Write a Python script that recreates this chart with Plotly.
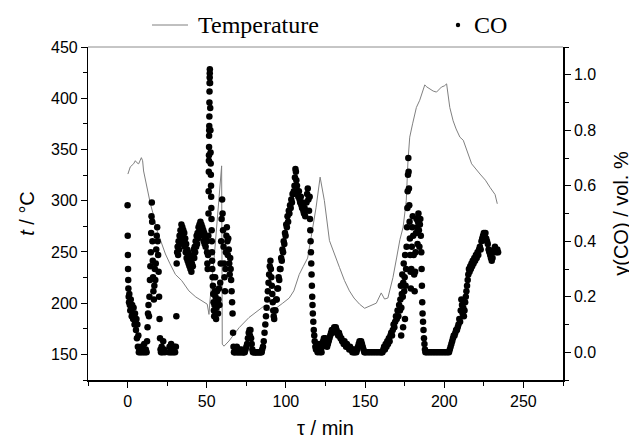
import plotly.graph_objects as go

# Temperature trace (tau in min, t in degC)
temp_tau = [0.2, 1.7, 3.8, 4.9, 5.9, 7.0, 8.7, 9.5, 10.1, 12.9, 14.4, 16.5, 18.6, 20.9, 23.9,
            26.6, 30.2, 34.2, 38.7, 43.1, 47.1, 50.3, 51.4, 52.0, 54.5, 57.1, 59.4, 59.8, 60.9,
            64.0, 70.4, 76.7, 83.1, 86.0, 89.4, 93.7, 98.0, 102.1, 105.0, 108.4, 111.0, 113.7,
            116.0, 119.0, 121.6, 124.3, 127.5, 130.0, 133.8, 137.0, 140.1, 143.0, 146.5, 149.7,
            153.0, 157.1, 160.2, 162.3, 164.4, 167.6, 170.0, 172.0, 174.0, 176.0, 177.1, 178.2,
            180.0, 182.4, 184.5, 186.0, 187.7, 189.0, 190.9, 193.0, 195.1, 196.5, 198.3, 200.0,
            201.5, 203.5, 205.6, 207.5, 209.9, 212.0, 214.0, 217.3, 222.6, 226.0, 228.9, 232.1, 233.5]
temp_c = [326, 333, 336, 339, 337, 336, 342, 339, 329, 306, 297, 285, 271, 261, 248,
          239, 228, 222, 212, 206, 202, 199, 189, 202, 241, 290, 334, 160, 158,
          163, 176, 186, 194, 197, 193, 195, 200, 205, 212, 228, 236, 244,
          265, 293, 323, 300, 261, 250, 235, 222, 212, 205, 199, 195,
          197, 200, 210, 204, 205, 225, 245, 262, 274, 300, 339, 362,
          375, 391, 398, 405, 413, 411, 409, 407, 406, 408, 411, 412,
          414, 391, 378, 370, 362, 359, 350, 336, 326, 320, 313, 306, 297]

# CO trace (tau in min, y(CO) in vol. %)
co_tau = [
    0.0, 0.1, 0.2, 0.3, 0.4, 0.5, 0.7, 0.9, 1.1, 1.4,
    1.7, 2.0, 2.3, 2.6, 2.9, 3.2, 3.5, 3.8, 4.1, 4.4,
    4.7, 5.0, 5.3, 5.6, 5.9, 6.2, 6.5, 6.8, 7.1, 7.5,
    8.0, 8.5, 9.0, 9.5, 10.0, 10.5, 11.0, 11.5,
    12.0, 12.3, 12.6, 12.9, 13.2, 13.5, 13.8, 14.1, 14.4, 14.7,
    14.9, 15.1, 15.3, 15.5, 15.7, 15.9, 16.1, 16.3, 16.6, 16.9,
    17.2, 17.5, 17.8, 18.1, 18.4, 18.7, 19.0, 19.3, 19.6, 19.9,
    20.2, 20.5, 20.8, 21.1, 21.5, 22.0, 22.5, 23.0, 23.5,
    26.0, 26.5, 27.0, 27.5, 28.0, 28.5, 29.0, 29.5, 30.0, 30.5,
    30.8, 31.0, 31.3, 31.6, 31.9, 32.2, 32.5, 32.8, 33.1, 33.4,
    33.7, 34.0, 34.3, 34.6, 34.9, 35.2, 35.5, 35.8, 36.1, 36.4,
    36.7, 37.0, 37.3, 37.6, 37.9, 38.2, 38.5, 38.8, 39.1, 39.4,
    39.7, 40.0, 40.3, 40.6, 40.9, 41.2, 41.5, 41.8, 42.1, 42.4,
    42.7, 43.0, 43.3, 43.6, 43.9, 44.2, 44.5, 44.8, 45.1, 45.4,
    45.7, 46.0, 46.3, 46.6, 46.9, 47.2, 47.5, 47.8, 48.1, 48.4,
    48.7, 49.0, 49.3, 49.6, 50.0, 50.2, 50.4, 50.6, 50.8, 51.0,
    51.1, 51.2, 51.3, 51.35, 51.4, 51.45, 51.5, 51.55, 51.6, 51.65,
    51.7, 51.75, 51.8, 51.85, 51.9, 51.95, 52.1, 52.2, 52.3, 52.4,
    52.5, 52.6, 52.7, 52.8, 52.9, 53.0, 53.1, 53.2, 53.3, 53.4,
    53.5, 53.7, 53.9, 54.1, 54.3, 54.5, 54.7, 54.9, 55.1, 55.3,
    55.5, 55.7, 55.9, 56.2, 56.5, 56.8, 57.1, 57.4, 57.7, 58.0,
    58.5, 58.8, 59.1, 59.4, 59.7, 60.0, 60.3, 60.6, 60.9, 61.2,
    61.5, 61.8, 62.1, 62.4, 62.7, 63.0, 63.3, 63.6, 63.9, 64.2,
    64.5, 64.8, 65.1, 65.4, 65.7, 66.0, 66.3, 66.6, 66.9, 67.2,
    67.6, 68.0, 68.5, 69.0, 69.5, 70.0, 70.5, 71.0, 71.5, 72.0,
    72.5, 73.0, 73.5, 74.0, 74.5, 75.0, 75.5, 76.0, 76.5, 77.0,
    77.3, 77.6, 78.0, 78.4, 78.8, 79.2, 79.7, 80.2, 80.7, 81.2,
    81.7, 82.2, 82.7, 83.2, 83.7, 84.2, 84.7,
    85.0, 85.5, 86.0, 86.5, 87.0, 87.4, 87.8, 88.2, 88.6, 89.0,
    89.4, 89.8, 90.2, 90.5, 90.8, 91.1, 91.4, 91.7, 92.0, 92.3,
    92.6, 93.0, 93.4, 93.8, 94.2, 94.6, 95.0, 95.4, 95.8, 96.2,
    96.6, 97.0, 97.4, 97.8, 98.2, 98.6, 99.0, 99.4, 99.8, 100.2,
    100.6, 101.0, 101.4, 101.8, 102.2, 102.6, 103.0, 103.4, 103.8, 104.2,
    104.6, 105.0, 105.4, 105.7, 106.0, 106.3, 106.6,
    107.0, 107.4, 107.8, 108.2, 108.6, 109.0, 109.4, 109.8, 110.2, 110.6,
    111.0, 111.4, 111.8, 112.2, 112.6, 113.0, 113.4, 113.8, 114.2, 114.6,
    115.0, 115.2, 115.4, 115.6, 115.8, 116.0, 116.2, 116.4, 116.6, 116.8,
    117.0, 117.3, 117.6, 117.9, 118.2, 118.6, 119.0,
    119.5, 120.0, 120.5, 121.0, 121.5, 122.0, 122.5, 123.0, 123.5, 124.0,
    124.5, 125.0, 125.5, 126.0, 126.5, 127.0, 127.5, 128.0, 128.5, 129.0,
    129.5, 130.0, 130.5, 131.0, 131.5, 132.0, 132.5, 133.0, 133.5, 134.0,
    134.5, 135.0, 135.5, 136.0, 136.5, 137.0, 137.5, 138.0, 138.5, 139.0,
    139.5, 140.0, 140.5, 141.0, 141.5, 142.0, 142.5, 143.0, 143.5, 144.0,
    144.5, 145.0, 145.5, 146.0, 146.5, 147.0, 147.5, 148.0, 148.5, 149.0,
    149.5, 150.0, 151.0, 152.0, 153.0, 154.0, 155.0, 156.0, 157.0, 158.0,
    159.0, 160.0, 160.5, 161.0,
    161.5, 162.0, 162.5, 163.0, 163.5, 164.0, 164.5, 165.0, 165.5, 166.0,
    166.5, 167.0, 167.5, 168.0, 168.5, 169.0, 169.5, 170.0, 170.5, 171.0,
    171.5, 172.0, 172.3, 172.6, 172.9, 173.2, 173.5, 173.8, 174.1, 174.4,
    174.7, 175.0, 175.3, 175.6, 175.9, 176.2, 176.5, 176.7, 176.9, 177.1,
    177.3, 177.5, 177.7, 177.9, 178.1, 178.3, 178.5, 178.7, 178.9, 179.2,
    179.5, 179.8, 180.1, 180.4, 180.7, 181.0, 181.3, 181.6, 181.9, 182.2,
    182.5, 182.8, 183.1, 183.4, 183.7, 184.0, 184.3, 184.6, 184.9, 185.2,
    185.5, 185.7, 185.9, 186.1, 186.3, 186.6, 186.9, 187.2, 187.5, 187.8,
    172.8, 174.0, 175.2,
    188.1, 189.0, 190.0, 191.0, 192.0, 193.0, 194.0, 195.0, 196.0, 197.0,
    198.0, 199.0, 200.0, 201.0, 202.0, 203.0, 203.5, 204.0, 204.5, 205.0,
    205.5, 206.0, 206.5, 207.0, 207.5, 208.0, 208.5, 209.0, 209.5, 210.0,
    210.4, 210.8, 211.2, 211.6, 212.0, 212.4, 212.8, 213.2, 213.6, 214.0,
    214.4, 214.8, 215.2, 215.6, 216.0, 216.4, 216.8, 217.2, 217.6, 218.0,
    218.5, 219.0, 219.5, 220.0, 220.5, 221.0, 221.5, 222.0, 222.5, 223.0,
    223.5, 224.0, 224.5, 225.0, 225.5, 226.0, 226.5, 227.0, 227.5, 228.0,
    228.5, 229.0, 229.5, 230.0, 230.5, 231.0, 231.5, 232.0, 232.5, 233.0,
    233.5, 234.0,
]
co_y = [
    0.53, 0.42, 0.35, 0.30, 0.26, 0.23, 0.20, 0.18, 0.21, 0.17,
    0.15, 0.19, 0.16, 0.13, 0.17, 0.14, 0.12, 0.16, 0.13, 0.10,
    0.14, 0.11, 0.08, 0.12, 0.05, 0.10, 0.02, 0.06, 0.00, 0.01,
    0.00, 0.02, 0.00, 0.01, 0.00, 0.03, 0.00, 0.01,
    0.00, 0.04, 0.09, 0.14, 0.17, 0.13, 0.20, 0.26, 0.31, 0.36,
    0.43, 0.49, 0.54, 0.47, 0.40, 0.33, 0.27, 0.22, 0.19, 0.24,
    0.30, 0.26, 0.32, 0.37, 0.42, 0.45, 0.40, 0.35, 0.29, 0.20,
    0.12, 0.05, 0.01, 0.00, 0.02, 0.00, 0.04, 0.01, 0.00,
    0.00, 0.02, 0.00, 0.03, 0.00, 0.01, 0.00, 0.02, 0.00, 0.02,
    0.13, 0.32, 0.36, 0.38, 0.35, 0.40, 0.37, 0.42, 0.39, 0.44,
    0.41, 0.46, 0.43, 0.45, 0.42, 0.44, 0.40, 0.43, 0.38, 0.41,
    0.36, 0.39, 0.34, 0.37, 0.33, 0.36, 0.32, 0.35, 0.31, 0.34,
    0.30, 0.33, 0.29, 0.32, 0.34, 0.31, 0.35, 0.37, 0.34, 0.38,
    0.36, 0.40, 0.38, 0.42, 0.39, 0.43, 0.41, 0.45, 0.42, 0.46,
    0.43, 0.47, 0.44, 0.46, 0.43, 0.45, 0.42, 0.44, 0.40, 0.43,
    0.39, 0.42, 0.38, 0.41, 0.40, 0.36, 0.32, 0.30, 0.35, 0.42,
    0.50, 0.58, 0.65, 0.69, 0.71, 0.74, 0.78, 0.80, 0.815, 0.85,
    0.90, 0.94, 0.97, 0.99, 1.005, 1.02, 0.97, 0.88, 0.80, 0.72,
    0.68, 0.64, 0.60, 0.56, 0.52, 0.48, 0.44, 0.40, 0.36, 0.33,
    0.30, 0.27, 0.24, 0.21, 0.18, 0.15, 0.13, 0.17, 0.22, 0.27,
    0.20, 0.14, 0.12, 0.16, 0.22, 0.18, 0.14, 0.19, 0.23, 0.17,
    0.25, 0.32, 0.40, 0.48, 0.55, 0.50, 0.44, 0.38, 0.32, 0.27,
    0.22, 0.30, 0.36, 0.42, 0.45, 0.40, 0.35, 0.41, 0.37, 0.32,
    0.28, 0.34, 0.30, 0.26, 0.22, 0.18, 0.14, 0.07, 0.02, 0.00,
    0.00, 0.01, 0.00, 0.02, 0.00, 0.00, 0.01, 0.00, 0.00, 0.01,
    0.00, 0.00, 0.00, 0.00, 0.01, 0.02, 0.03, 0.05, 0.07, 0.08,
    0.06, 0.08, 0.05, 0.03, 0.01, 0.00, 0.00, 0.00, 0.00, 0.00,
    0.00, 0.00, 0.00, 0.00, 0.00, 0.00, 0.00,
    0.01, 0.02, 0.04, 0.07, 0.10, 0.13, 0.16, 0.19, 0.22, 0.25,
    0.28, 0.31, 0.33, 0.30, 0.27, 0.24, 0.21, 0.18, 0.15, 0.13,
    0.12, 0.15, 0.15, 0.19, 0.19, 0.23, 0.23, 0.27, 0.26, 0.30,
    0.30, 0.34, 0.33, 0.37, 0.36, 0.40, 0.39, 0.43, 0.42, 0.46,
    0.45, 0.49, 0.47, 0.51, 0.50, 0.53, 0.52, 0.55, 0.54, 0.57,
    0.57, 0.58, 0.60, 0.63, 0.66, 0.65, 0.62,
    0.60, 0.58, 0.56, 0.58, 0.55, 0.54, 0.56, 0.53, 0.52, 0.54,
    0.51, 0.50, 0.52, 0.49, 0.51, 0.54, 0.57, 0.59, 0.55, 0.51,
    0.56, 0.48, 0.44, 0.40, 0.36, 0.32, 0.28, 0.24, 0.20, 0.17,
    0.14, 0.11, 0.08, 0.06, 0.04, 0.02, 0.01,
    0.02, 0.00, 0.01, 0.03, 0.00, 0.01, 0.00, 0.02, 0.04, 0.05,
    0.04, 0.05, 0.03, 0.02, 0.03, 0.04, 0.05, 0.06, 0.07, 0.08,
    0.07, 0.08, 0.09, 0.08, 0.09, 0.08, 0.07, 0.06, 0.07, 0.06,
    0.05, 0.05, 0.04, 0.04, 0.03, 0.04, 0.03, 0.02, 0.03, 0.02,
    0.02, 0.01, 0.02, 0.01, 0.01, 0.00, 0.01, 0.00, 0.00, 0.01,
    0.00, 0.01, 0.02, 0.03, 0.04, 0.03, 0.04, 0.03, 0.02, 0.01,
    0.00, 0.00, 0.00, 0.00, 0.00, 0.00, 0.00, 0.00, 0.00, 0.00,
    0.00, 0.00, 0.00, 0.00,
    0.01, 0.02, 0.01, 0.03, 0.02, 0.04, 0.03, 0.05, 0.04, 0.06,
    0.07, 0.06, 0.08, 0.10, 0.09, 0.11, 0.13, 0.12, 0.15, 0.13,
    0.17, 0.15, 0.19, 0.24, 0.16, 0.21, 0.28, 0.20, 0.25, 0.32,
    0.22, 0.27, 0.35, 0.24, 0.30, 0.38, 0.45, 0.52, 0.58, 0.64,
    0.70, 0.65, 0.59, 0.53, 0.47, 0.41, 0.35, 0.29, 0.23, 0.30,
    0.38, 0.45, 0.49, 0.42, 0.35, 0.28, 0.22, 0.29, 0.36, 0.43,
    0.48, 0.45, 0.39, 0.47, 0.50, 0.44, 0.38, 0.46, 0.48, 0.42,
    0.36, 0.30, 0.24, 0.18, 0.14, 0.11, 0.08, 0.05, 0.03, 0.01,
    0.06, 0.09, 0.12,
    0.00, 0.00, 0.00, 0.00, 0.00, 0.00, 0.00, 0.00, 0.00, 0.00,
    0.00, 0.00, 0.00, 0.00, 0.00, 0.00, 0.01, 0.02, 0.03, 0.04,
    0.05, 0.06, 0.06, 0.07, 0.08, 0.08, 0.09, 0.10, 0.12, 0.11,
    0.15, 0.19, 0.17, 0.14, 0.16, 0.13, 0.15, 0.18, 0.20, 0.22,
    0.24, 0.26, 0.28, 0.30, 0.29, 0.31, 0.30, 0.32, 0.31, 0.33,
    0.32, 0.34, 0.33, 0.35, 0.34, 0.36, 0.35, 0.37, 0.38, 0.37,
    0.40, 0.41, 0.42, 0.43, 0.42, 0.43, 0.41, 0.40, 0.39, 0.37,
    0.36, 0.35, 0.34, 0.33, 0.34, 0.36, 0.37, 0.38, 0.37, 0.36,
    0.37, 0.36,
]
assert len(co_tau) == len(co_y), (len(co_tau), len(co_y))
assert len(temp_tau) == len(temp_c)

x_ticks = [0, 50, 100, 150, 200, 250]
legend_labels = ["Temperature", "CO"]

SANS = "Arial, Liberation Sans, sans-serif"
SERIF = "Times New Roman, Liberation Serif, serif"
TEMP_COLOR = "#808080"

fig = go.Figure()
fig.add_trace(go.Scatter(x=temp_tau, y=temp_c, mode="lines", name=legend_labels[0],
                         line=dict(color=TEMP_COLOR, width=1), showlegend=False))
fig.add_trace(go.Scatter(x=co_tau, y=co_y, mode="markers", name=legend_labels[1], yaxis="y2",
                         marker=dict(color="black", size=6.5, line=dict(width=0)), showlegend=False))

axis_common = dict(showgrid=False, zeroline=False, showline=True, linecolor="black",
                   ticks="outside", tickcolor="black", ticklen=6, tickwidth=1.2,
                   tickfont=dict(family=SANS, size=16, color="black"), automargin=False)

# The page body adds an 8 px offset, so the figure is 8 px smaller and the
# left/top margins 8 px smaller to keep the plot area at 88..563 x 47..380.
W_PLOT, H_PLOT = 475.0, 333.0
def px_x(px):
    return (px - 88) / W_PLOT
def px_y(py):
    return (380 - py) / H_PLOT

leg_y = px_y(25)

fig.update_layout(
    width=629, height=431,
    margin=dict(l=80, r=74, t=39, b=59),
    paper_bgcolor="white", plot_bgcolor="white",
    showlegend=False,
    xaxis=dict(range=[-25, 275], tickvals=x_ticks, linewidth=2,
               minor=dict(dtick=25, tick0=0, ticks="outside", ticklen=4, tickcolor="black"),
               title=dict(text="τ / min", font=dict(family=SANS, size=20, color="black"), standoff=17),
               **axis_common),
    yaxis=dict(range=[125, 450], tick0=0, dtick=50, linewidth=1.2,
               minor=dict(dtick=25, tick0=0, ticks="outside", ticklen=4, tickcolor="black"),
               title=dict(text="<i>t</i> / °C", font=dict(family=SANS, size=20, color="black"), standoff=10),
               **axis_common),
    yaxis2=dict(range=[-0.1, 1.1], tick0=0, dtick=0.2, tickformat=".1f", overlaying="y", side="right",
                linewidth=1.5,
                minor=dict(dtick=0.1, tick0=0, ticks="outside", ticklen=4, tickcolor="black"),
                title=dict(text="y(CO) / vol. %", font=dict(family=SANS, size=20, color="black"), standoff=19),
                **axis_common),
    shapes=[
        dict(type="line", xref="paper", yref="paper", x0=0, x1=1, y0=1, y1=1,
             line=dict(color="#8c8c8c", width=1)),
        # legend: temperature line sample
        dict(type="line", xref="paper", yref="paper", x0=px_x(152), x1=px_x(188), y0=leg_y, y1=leg_y,
             line=dict(color=TEMP_COLOR, width=1)),
        # legend: CO marker sample
        dict(type="circle", xref="paper", yref="paper", xsizemode="pixel", ysizemode="pixel",
             xanchor=px_x(458), yanchor=leg_y, x0=-2.2, x1=2.2, y0=-2.2, y1=2.2,
             fillcolor="black", line=dict(width=0)),
    ],
    annotations=[
        dict(text=legend_labels[0], xref="paper", yref="paper", x=px_x(196), y=leg_y,
             xanchor="left", yanchor="middle", showarrow=False,
             font=dict(family=SERIF, size=24, color="black")),
        dict(text=legend_labels[1], xref="paper", yref="paper", x=px_x(472), y=leg_y,
             xanchor="left", yanchor="middle", showarrow=False,
             font=dict(family=SERIF, size=24, color="black")),
    ],
)

fig.write_html("out.html")
